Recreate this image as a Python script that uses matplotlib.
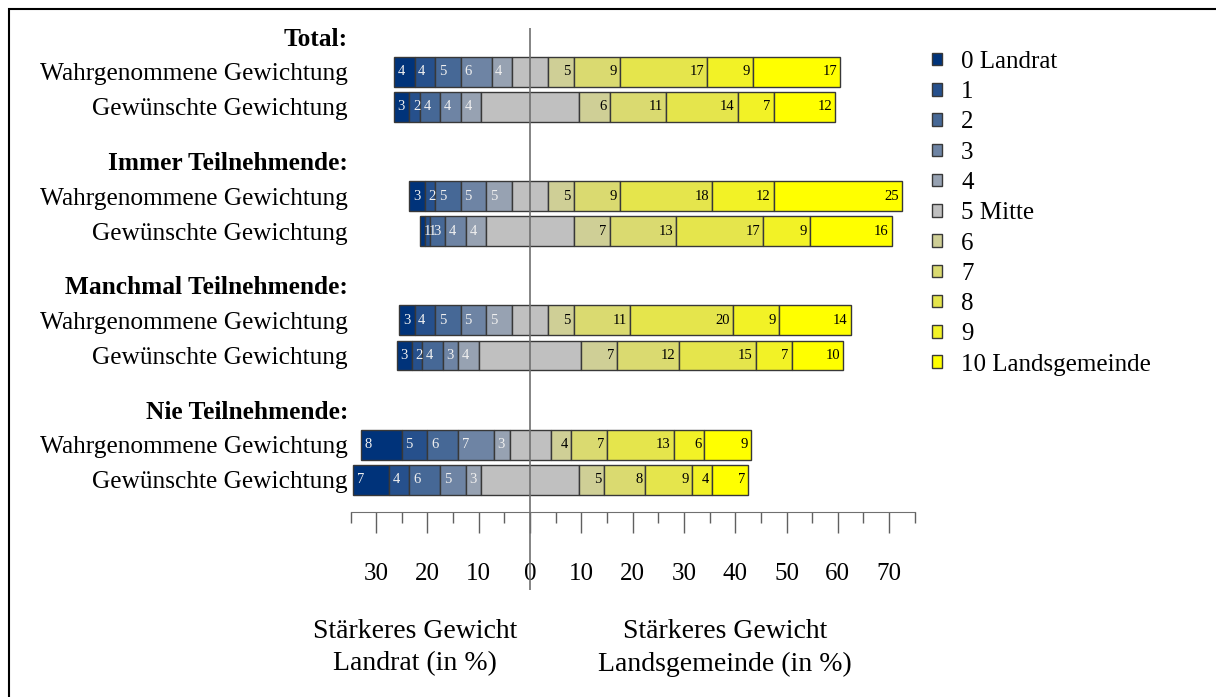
import numpy as np
import matplotlib.pyplot as plt
from matplotlib.patches import Rectangle
from matplotlib.ticker import MultipleLocator, FuncFormatter

plt.rcParams['font.family'] = ['Liberation Serif', 'DejaVu Serif']

# Categories of the 0-10 scale
categories = ['0 Landrat', '1', '2', '3', '4', '5 Mitte', '6', '7', '8', '9', '10 Landsgemeinde']
colors = ['#00337A', '#26508C', '#466896', '#6E84A4', '#97A2B2', '#C0C0C0',
          '#CFCF96', '#DADA70', '#E5E54C', '#F2F226', '#FFFF00']

groups = ['Total:', 'Immer Teilnehmende:', 'Manchmal Teilnehmende:', 'Nie Teilnehmende:']
row_labels = ['Wahrgenommene Gewichtung', 'Gewünschte Gewichtung']

# Percentages per answer category
total_wahr = [4, 4, 5, 6, 4, 7, 5, 9, 17, 9, 17]
total_gew = [3, 2, 4, 4, 4, 19, 6, 11, 14, 7, 12]
immer_wahr = [3, 2, 5, 5, 5, 7, 5, 9, 18, 12, 25]
immer_gew = [1, 1, 3, 4, 4, 17, 7, 13, 17, 9, 16]
manchmal_wahr = [3, 4, 5, 5, 5, 7, 5, 11, 20, 9, 14]
manchmal_gew = [3, 2, 4, 3, 4, 20, 7, 12, 15, 7, 10]
nie_wahr = [8, 5, 6, 7, 3, 8, 4, 7, 13, 6, 9]
nie_gew = [7, 4, 6, 5, 3, 19, 5, 8, 9, 4, 7]

data = [[total_wahr, total_gew], [immer_wahr, immer_gew],
        [manchmal_wahr, manchmal_gew], [nie_wahr, nie_gew]]

fig = plt.figure(figsize=(12.16, 6.97), dpi=100)
ax = fig.add_axes([350.5 / 1216, 107 / 697, 564.25 / 1216, 562 / 697])

group_step = 3.55
tick_pos, tick_lab, tick_bold = [], [], []
bar_y, bar_vals = [], []
for g, name in enumerate(groups):
    y0 = g * group_step
    tick_pos.append(y0)
    tick_lab.append(name)
    tick_bold.append(True)
    for r, lab in enumerate(row_labels):
        tick_pos.append(y0 + r + 1)
        tick_lab.append(lab)
        tick_bold.append(False)
        bar_y.append(y0 + r + 1)
        bar_vals.append(data[g][r])

vals = np.array(bar_vals, dtype=float)
bar_y = np.array(bar_y)
# center the "Mitte" category on zero
start = -(vals[:, :5].sum(axis=1) + vals[:, 5] / 2)
cum = np.cumsum(vals, axis=1)
lefts = start[:, None] + np.concatenate([np.zeros((len(vals), 1)), cum[:, :-1]], axis=1)

for k in range(len(categories)):
    ax.barh(bar_y, vals[:, k], left=lefts[:, k], height=0.857, color=colors[k],
            edgecolor='#383838', linewidth=1.0, label=categories[k], zorder=2)
    if k == 5:
        continue
    for y, v, l in zip(bar_y, vals[:, k], lefts[:, k]):
        if k < 5:
            ax.text(l + 0.7, y, f'{v:.0f}', ha='left', va='center', color='#F0F0F0',
                    fontsize=10.5, zorder=4)
        else:
            ax.text(l + v - 0.6, y, f'{v:.0f}', ha='right', va='center', color='black',
                    fontsize=10.5, zorder=4)

ax.axvline(0, color='#707070', lw=1.2, zorder=3)

ax.set_xlim(-35, 75)
ax.set_ylim(15.8, -0.257)
for s in ['top', 'right', 'left']:
    ax.spines[s].set_visible(False)
ax.spines['bottom'].set_position(('data', 13.57))
ax.spines['bottom'].set_bounds(-35, 75)
ax.spines['bottom'].set_color('#707070')

ax.xaxis.set_major_locator(MultipleLocator(10))
ax.xaxis.set_minor_locator(MultipleLocator(5))
ax.xaxis.set_major_formatter(FuncFormatter(lambda v, p: f'{abs(v):.0f}'))
ax.tick_params(axis='x', which='major', length=15, width=1, color='#606060', pad=22, labelsize=18)
ax.tick_params(axis='x', which='minor', length=7.6, width=1, color='#606060')

ax.set_yticks(tick_pos, tick_lab)
ax.tick_params(axis='y', length=0, pad=1.8, labelsize=18.3)
for t, b in zip(ax.get_yticklabels(), tick_bold):
    if b:
        t.set_fontweight('bold')

ax.legend(loc='upper left', bbox_to_anchor=(932 / 1216, 1 - 51 / 697),
          bbox_transform=fig.transFigure, frameon=False, fontsize=18,
          handlelength=0.4, handleheight=0.4, handletextpad=0.76,
          labelspacing=0.33, borderpad=0, borderaxespad=0)

fig.text(415 / 1216, 1 - 632 / 697, 'Stärkeres Gewicht', ha='center', va='center', fontsize=20)
fig.text(415 / 1216, 1 - 664 / 697, 'Landrat (in %)', ha='center', va='center', fontsize=20)
fig.text(725 / 1216, 1 - 632 / 697, 'Stärkeres Gewicht', ha='center', va='center', fontsize=20)
fig.text(725 / 1216, 1 - 664 / 697, 'Landsgemeinde (in %)', ha='center', va='center', fontsize=20)

# page frame (only left and top edges are visible in the cut-out)
fig.add_artist(Rectangle((9 / 1216, -0.1), 1.5, (697 - 9) / 697 + 0.1,
                         transform=fig.transFigure, fill=False, lw=1.5, edgecolor='black'))

fig.savefig('out.png', dpi=100)
